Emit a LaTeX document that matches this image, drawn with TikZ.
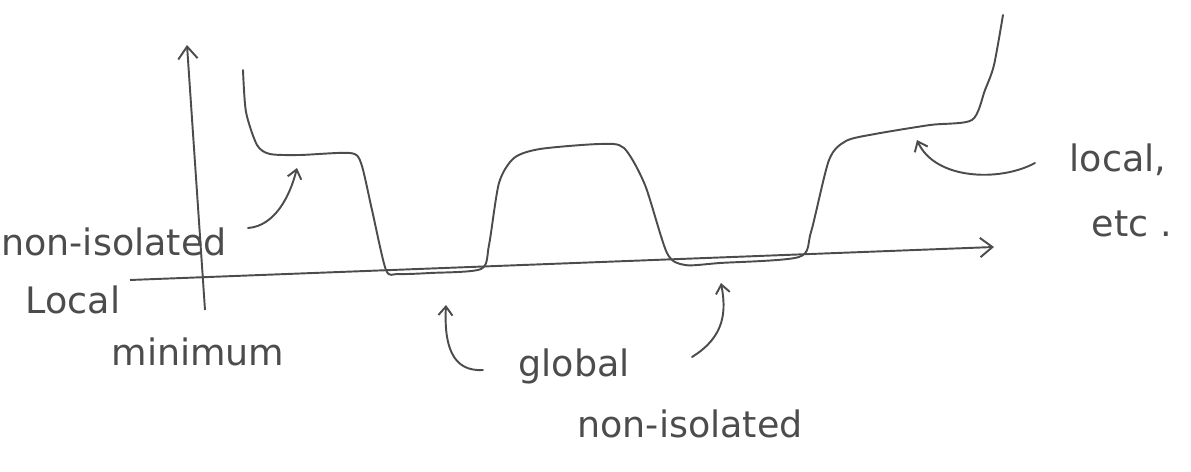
\documentclass[tikz,border=0pt]{standalone}
\usepackage{fontspec}
\setmainfont{DejaVu Sans}
\usetikzlibrary{arrows.meta, positioning}
\definecolor{pen}{gray}{0.3}

\begin{document}
\begin{tikzpicture}[
  x=0.02cm, y=-0.02cm,
  axis/.style={draw=pen, line width=1.1pt, -{Straight Barb[length=7pt,width=11pt]}},
  curve/.style={draw=pen, line width=1.1pt, line cap=round, line join=round},
  ptr/.style={draw=pen, line width=1.1pt, line cap=round, -{Straight Barb[length=5pt,width=8pt]}},
  hand/.style={text=pen, font=\huge, inner sep=0pt, anchor=center}
]
  \useasboundingbox (0,0) rectangle (1191,472);

  \coordinate (yfoot) at (205,310);
  \coordinate (ytop)  at (187,45);
  \coordinate (xfoot) at (130,280);
  \coordinate (xtip)  at (994,247);
  \draw[axis] (yfoot) -- (ytop);
  \draw[axis] (xfoot) -- (xtip);

  \draw[curve] plot[smooth, tension=0.45] coordinates {
    (243,70) (246,112) (257,145) (270,154) (300,155) (350,153) (361,163)
    (372,210) (386,270) (398,274) (430,273) (481,269) (489,245) (499,183)
    (514,158) (540,149) (600,144) (624,148) (645,185) (667,253) (685,265)
    (720,263) (799,257) (811,232) (829,160) (846,141) (875,134) (930,125)
    (972,120) (985,90) (994,65) (1003,15)};

  \node[hand] (nonisoA) at (114,242) {non-isolated};
  \node[hand] (localA)  at (73,300)  {Local};
  \node[hand] (minA)    at (198,352) {minimum};
  \node[hand] (global)  at (574,366) {global};
  \node[hand] (nonisoB) at (690,424) {non-isolated};
  \node[hand] (localB)  at (1118,160) {local,};
  \node[hand] (etc)     at (1132,224) {etc\,\,.};

  \coordinate (plateauA) at (297,168);
  \coordinate (startA)   at (248,228);
  \coordinate (flatA)    at (446,305);
  \coordinate (startB)   at (483,370);
  \coordinate (flatB)    at (721,283);
  \coordinate (startC)   at (692,357);
  \coordinate (plateauC) at (917,140);
  \coordinate (startD)   at (1035,163);

  \draw[ptr] (startA) .. controls (275,226) and (290,196) .. (plateauA);
  \draw[ptr] (startB) .. controls (452,372) and (444,345) .. (flatA);
  \draw[ptr] (startC) .. controls (726,336) and (726,310) .. (flatB);
  \draw[ptr] (startD) .. controls (1000,182) and (935,180) .. (plateauC);
\end{tikzpicture}
\end{document}
